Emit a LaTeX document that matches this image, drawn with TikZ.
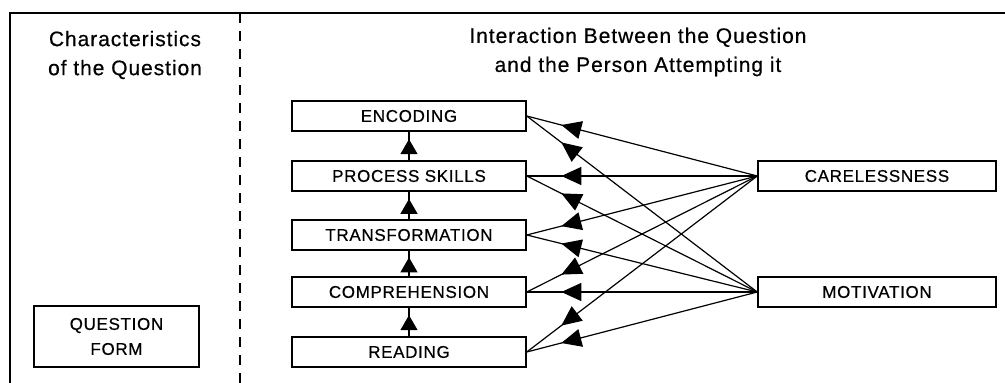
\documentclass[tikz,border=0pt]{standalone}
\usepackage{fontspec}
\setmainfont{Liberation Sans}
\newfontfamily\boxfont[LetterSpace=4,FakeBold=0.5]{Liberation Sans}
\newfontfamily\titlefont[LetterSpace=4.5,FakeBold=0.5]{Liberation Sans}
\usetikzlibrary{arrows.meta,decorations.markings}
\begin{document}
\begin{tikzpicture}[x=1pt,y=-1pt,
  box/.style={draw,line width=1.5pt,minimum width=234pt,minimum height=30pt,inner sep=0pt,
    font=\boxfont\fontsize{17}{25}\selectfont},
  rbox/.style={box,minimum width=238pt},
  title/.style={align=center,inner sep=0pt,font=\titlefont\fontsize{21}{29}\selectfont},
  link/.style={line width=1.2pt,postaction={decorate},
    decoration={markings,mark=at position #1 with {\arrow{Triangle[length=20pt,width=18pt]}}}},
  uplink/.style={line width=1.2pt,postaction={decorate},
    decoration={markings,mark=at position #1 with {\arrow{Triangle[length=15pt,width=17pt]}}}}
]
\useasboundingbox (0,0) rectangle (1005,383);
% frame
\draw[line width=2pt] (10,383) -- (10,13) -- (1005,13);
\draw[line width=2pt, dash pattern=on 10pt off 8pt] (240,13) -- (240,383);
% titles
\node[title] (t1) at (125,55) {Characteristics\\of the Question};
\node[title] (t2) at (638,52) {Interaction Between the Question\\and the Person Attempting it};
% boxes
\node[box] (enc) at (409,116) {ENCODING};
\node[box] (proc) at (409,176) {PROCESS SKILLS};
\node[box] (trans) at (409,235) {TRANSFORMATION};
\node[box] (comp) at (409,292) {COMPREHENSION};
\node[box] (read) at (409,352) {READING};
\node[rbox] (care) at (877,176) {CARELESSNESS};
\node[rbox] (moti) at (877,292) {MOTIVATION};
\node[box, minimum width=165pt, minimum height=61pt, align=center] (qf) at (116.5,336.5) {QUESTION\\FORM};
% vertical arrows
\draw[uplink=0.74] (proc.north) -- (enc.south);
\draw[uplink=0.74] (trans.north) -- (proc.south);
\draw[uplink=0.74] (comp.north) -- (trans.south);
\draw[uplink=0.74] (read.north) -- (comp.south);
% links
\foreach \l in {enc,proc,trans,comp,read}{
  \draw[link=0.85] (care.west) -- (\l.east);
  \draw[link=0.85] (moti.west) -- (\l.east);
}
\end{tikzpicture}
\end{document}
